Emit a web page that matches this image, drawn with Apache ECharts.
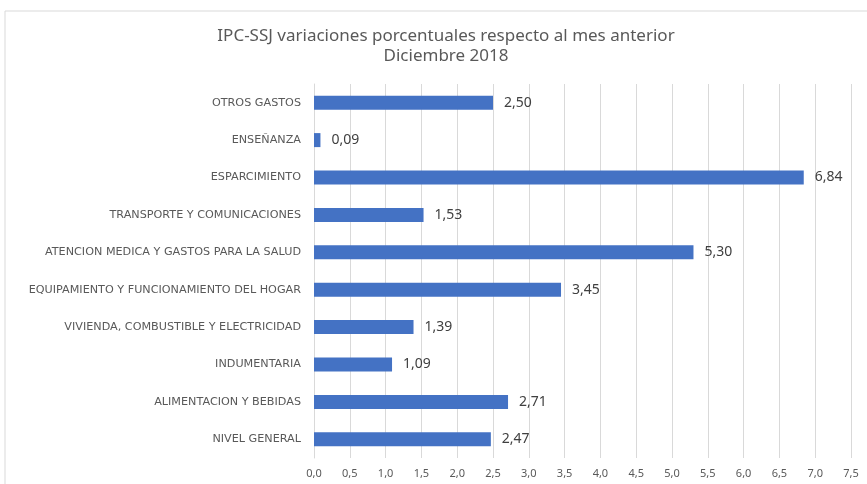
<!DOCTYPE html>
<html>
<head>
<meta charset="utf-8">
<script src="https://cdn.jsdelivr.net/npm/echarts@6/dist/echarts.min.js"></script>
<style>
  html, body { margin: 0; padding: 0; background: #fff; }
  #chart { width: 867px; height: 484px; }
</style>
</head>
<body>
<div id="chart"></div>
<script>
// categorias de abajo hacia arriba (eje de categorias de ECharts empieza abajo)
const categorias = [
  'NIVEL GENERAL',
  'ALIMENTACION Y BEBIDAS',
  'INDUMENTARIA',
  'VIVIENDA, COMBUSTIBLE Y ELECTRICIDAD',
  'EQUIPAMIENTO Y FUNCIONAMIENTO DEL HOGAR',
  'ATENCION MEDICA Y GASTOS PARA LA SALUD',
  'TRANSPORTE Y COMUNICACIONES',
  'ESPARCIMIENTO',
  'ENSEÑANZA',
  'OTROS GASTOS'
]
const variaciones = [2.47, 2.71, 1.09, 1.39, 3.45, 5.30, 1.53, 6.84, 0.09, 2.50]

const fuente = '"Noto Sans", sans-serif'
const myChart = echarts.init(document.getElementById('chart'))

const option = {
  animation: false,
  title: {
    text: 'IPC-SSJ variaciones porcentuales respecto al mes anterior\nDiciembre 2018',
    left: 441,
    top: 21,
    textAlign: 'center',
    textStyle: {
      fontFamily: fuente,
      fontSize: 17,
      fontWeight: 'normal',
      color: '#595959',
      lineHeight: 20
    }
  },
  // marco del grafico (recortado a la derecha y abajo)
  graphic: [
    {
      type: 'polyline',
      shape: { points: [[5, 484], [5, 11], [867, 11]] },
      style: { stroke: '#d9d9d9', lineWidth: 1, fill: null },
      silent: true
    }
  ],
  grid: {
    left: 314,
    right: 16,
    top: 84,
    bottom: 26,
    containLabel: false
  },
  xAxis: {
    type: 'value',
    min: 0,
    max: 7.5,
    interval: 0.5,
    axisLine: { show: false },
    axisTick: { show: false },
    splitLine: { lineStyle: { color: '#d9d9d9', width: 1 } },
    axisLabel: {
      fontFamily: fuente,
      fontSize: 11,
      color: '#595959',
      margin: 10,
      formatter: v => v.toFixed(1).replace('.', ',')
    }
  },
  yAxis: {
    type: 'category',
    data: categorias,
    axisLine: { show: true, lineStyle: { color: '#d9d9d9' } },
    axisTick: { show: false },
    axisLabel: {
      fontFamily: '"DejaVu Sans", sans-serif',
      fontSize: 11.2,
      color: '#595959',
      margin: 13
    }
  },
  series: [
    {
      type: 'bar',
      data: variaciones,
      barWidth: 14,
      itemStyle: { color: '#4472c4' },
      label: {
        show: true,
        position: 'right',
        distance: 11,
        fontFamily: fuente,
        fontSize: 14,
        color: '#404040',
        formatter: p => p.value.toFixed(2).replace('.', ',')
      }
    }
  ]
}

option && myChart.setOption(option)
window.addEventListener('resize', () => {
  myChart.resize()
})
</script>
</body>
</html>
